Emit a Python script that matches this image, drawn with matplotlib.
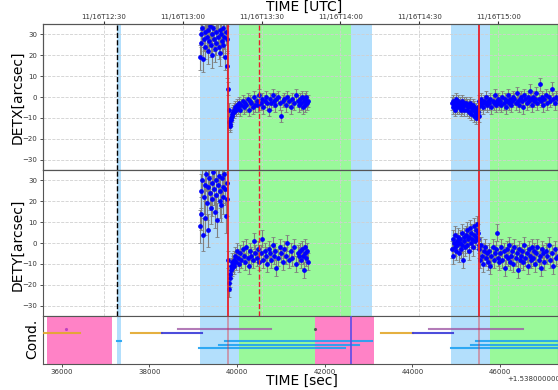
import numpy as np
import matplotlib
matplotlib.use("Agg")
import matplotlib.pyplot as plt

# ---- data (seconds relative to 1.538e9) ----
t_offset = 1.538e9

# pointing segment A (slew / unsettled)
tA = [39150, 39168, 39186, 39204, 39222, 39240, 39258, 39276, 39294, 39312,
      39330, 39348, 39366, 39384, 39402, 39420, 39438, 39456, 39474, 39492,
      39510, 39528, 39546, 39564, 39582, 39600, 39618, 39636, 39654, 39672,
      39690, 39708, 39726, 39744, 39762, 39780]
detxA = [19, 30, 26, 33, 18, 28, 31, 24, 36, 29,
         22, 32, 27, 34, 25, 30, 20, 33, 28, 23,
         31, 26, 38, 29, 24, 32, 21, 30, 27, 33,
         25, 29, 19, 31, 28, 15]
detyA = [8, 25, 14, 30, 4, 22, 28, 12, 33, 19,
         27, 6, 31, 24, 17, 29, 21, 34, 26, 15,
         30, 23, 11, 28, 32, 20, 25, 18, 31, 27,
         22, 33, 26, 13, 29, 21]

# segment B
tB = [39800, 39810, 39820, 39830, 39840, 39852, 39864, 39876, 39890, 39905,
      39920, 39940, 39960, 39980, 40000, 40025, 40050, 40075, 40100, 40125,
      40150, 40180, 40210, 40240, 40270, 40300, 40330, 40360, 40390, 40420,
      40450, 40480, 40510, 40540, 40570, 40600, 40630, 40660, 40690, 40720,
      40750, 40780, 40810, 40840, 40870, 40900, 40935, 40970, 41005, 41040,
      41075, 41110, 41145, 41180, 41220, 41260, 41300, 41340, 41380, 41420,
      41440, 41460, 41480, 41500, 41520, 41540, 41560, 41580, 41600, 41620]
detxB = [4, -6, -12, -14, -13, -11, -10, -8, -9, -7,
         -6, -7, -5, -6, -4, -5, -3, -6, -4, -2,
         -5, -3, -4, -1, -6, -2, -3, -5, 0, -4,
         -2, -4, 1, -3, -1, -5, -2, 0, -3, -6,
         -1, -3, 1, -2, -4, -1, 0, -3, -9, -2,
         -1, -4, 0, -2, -5, -1, -3, 1, -2, -4,
         -1, -3, 0, -5, -2, -1, -4, 0, -3, -2]
detyB = [-8, -22, -19, -17, -15, -13, -11, -12, -9, -10,
         -8, -11, -6, -9, -4, -7, -10, -5, -8, -3,
         -6, -9, -2, -7, -11, -4, -6, -8, 1, -5,
         -7, -3, -9, -5, 2, -8, -4, -6, -10, -3,
         -5, -8, -1, -6, -4, -12, -7, -2, -5, -9,
         -3, -6, 0, -8, -4, -7, -2, -10, -5, -6,
         -4, -8, -3, -6, -13, -5, -2, -7, -4, -9]

# segment C
tC = [44900, 44916, 44932, 44948, 44964, 44980, 44996, 45012, 45028, 45044,
      45060, 45076, 45092, 45108, 45124, 45140, 45156, 45172, 45188, 45204,
      45220, 45236, 45252, 45268, 45284, 45300, 45316, 45332, 45348, 45364,
      45380, 45396, 45412, 45428, 45444, 45460, 45476, 45492, 45505, 45518]
detxC = [-3, -5, -2, -4, -6, -3, -1, -5, -4, -2,
         -5, -3, -4, -6, -2, -5, -4, -3, -6, -4,
         -3, -6, -4, -5, -7, -4, -3, -8, -5, -6,
         -4, -9, -5, -7, -10, -6, -8, -5, -7, -9]
detyC = [-3, 2, -6, 0, -2, 4, -4, 1, -1, 3,
         -5, 0, 2, -3, 5, -1, -8, 3, 1, -2,
         4, -1, 6, 2, -4, 3, 7, 0, 5, 2,
         -2, 8, 4, 1, 6, 3, 9, 2, 5, -1]

# segment D
tD = [45525, 45545, 45565, 45585, 45605, 45630, 45655, 45680, 45705, 45730,
      45755, 45780, 45805, 45830, 45855, 45880, 45905, 45930, 45955, 45980,
      46005, 46030, 46055, 46080, 46105, 46130, 46155, 46180, 46205, 46230,
      46255, 46280, 46305, 46330, 46355, 46380, 46405, 46430, 46455, 46480,
      46505, 46530, 46555, 46580, 46605, 46630, 46655, 46680, 46705, 46730,
      46755, 46780, 46805, 46830, 46855, 46880, 46905, 46930, 46955, 46980,
      47005, 47040, 47075, 47110, 47145, 47180, 47215, 47250, 47285, 47320]
detxD = [-2, -4, -1, -3, -5, -2, -3, 0, -4, -2,
         -3, -1, -5, -2, -3, 1, -4, -2, -1, -3,
         -2, -4, 0, -3, -1, -5, -2, 1, -3, -1,
         -4, -2, 0, -1, -3, 2, -2, -4, -1, 0,
         -2, -5, 1, -1, -3, 0, -2, 3, -1, -4,
         0, -2, -1, 2, -3, -1, 6, -2, 0, -4,
         -1, 1, -3, 0, -2, 4, -1, -3, 0, -1]
detyD = [-3, -8, -1, -6, -10, -4, -2, -7, -5, -9,
         -4, -11, -6, -2, -8, -5, -3, 5, -7, -9,
         -5, -2, -8, -4, -12, -6, -3, -7, -1, -9,
         -6, -4, -10, -2, -7, -5, -13, -3, -8, -6,
         -4, -9, -1, -7, -5, -11, -3, -6, -8, -2,
         -7, -4, -10, -5, -2, -8, -6, -12, -3, -5,
         -9, -4, -6, -1, -8, -5, -11, -3, -7, -6]

segments = [(tA, detxA, detyA, 6, 8), (tB, detxB, detyB, 3, 4),
            (tC, detxC, detyC, 3, 4), (tD, detxD, detyD, 3, 4)]

# shaded intervals
top_blue = [(37268, 37352), (39155, 40045), (42600, 43080), (44882, 45771)]
top_green = [(40045, 42600), (45771, 47500)]
cond_pink = [(35671, 37154), (41786, 43117)]
cond_blue = [(37268, 37352), (39155, 40045), (44882, 45771)]
cond_green = [(40045, 41786), (45771, 47500)]

# event lines
black_dash = 37258
red_solid = [39794, 45520]
red_dash = 40500
blue_cond = 42593

# condition bars: (start, end, level, colour key)
cond_bars = [(35400, 36420, 8.3, 'orange'), (37574, 38295, 8.3, 'orange'),
             (38295, 39208, 8.3, 'blue'), (43284, 44021, 8.3, 'orange'),
             (44021, 44934, 8.3, 'blue'),
             (38646, 40775, 9.5, 'purple'), (44380, 46517, 9.5, 'purple'),
             (37270, 37350, 6.2, 'sky'),
             (39725, 43072, 6.2, 'sky'), (39596, 42783, 5.2, 'sky'),
             (39132, 42463, 4.3, 'sky'),
             (45452, 47500, 6.2, 'sky'), (45331, 47500, 5.2, 'sky'),
             (44875, 47500, 4.3, 'sky')]
cond_dots = [(36098, 9.5, '#c040c0'), (41779, 9.5, '#555555')]

utc_ticks = [36960, 38760, 40560, 42360, 44160, 45960]
utc_labels = ['11/16T12:30', '11/16T13:00', '11/16T13:30',
              '11/16T14:00', '11/16T14:30', '11/16T15:00']
sec_ticks = [36000, 38000, 40000, 42000, 44000, 46000]

xlim = (35573, 47323)

# ---- style ----
c_blue = '#b3dffc'
c_green = '#99f99a'
c_pink = '#ff82c6'
bar_colors = {'orange': '#e3a82b', 'blue': '#3a3ad8',
              'purple': '#a05aa6', 'sky': '#1fa2f2'}
spine_c = '#555555'
tick_fs = 5
label_fs = 10

fig = plt.figure(figsize=(5.58, 3.90), dpi=100)
W, H = 558.0, 390.0
left = 43 / W
width = 1.0 - left
ax1 = fig.add_axes([left, 1 - 170 / H, width, 146 / H])
ax2 = fig.add_axes([left, 1 - 316 / H, width, 146 / H])
ax3 = fig.add_axes([left, 1 - 364 / H, width, 48 / H])


def shade(ax, spans, color):
    for a, b in spans:
        ax.axvspan(a, b, color=color, lw=0, zorder=0)


for ax, idx in ((ax1, 1), (ax2, 2)):
    shade(ax, top_blue, c_blue)
    shade(ax, top_green, c_green)
    for t, dx, dy, ex, ey in segments:
        v = dx if idx == 1 else dy
        e = ex if idx == 1 else ey
        ax.errorbar(t, v, yerr=e, fmt='o', ms=2.4, mfc='blue', mec='blue',
                    ecolor='grey', elinewidth=0.8, capsize=1.5, capthick=0.6,
                    zorder=3)
    ax.axvline(black_dash, color='black', ls='--', lw=1.0, zorder=4)
    for x in red_solid:
        ax.axvline(x, color='#e8202a', lw=1.3, zorder=4)
    ax.axvline(red_dash, color='#e8202a', ls='--', lw=1.0, zorder=4)
    ax.set_ylim(-35, 35)
    ax.set_yticks([-30, -20, -10, 0, 10, 20, 30])
    ax.set_xlim(*xlim)
    ax.set_xticks(utc_ticks)
    ax.tick_params(axis='x', length=0, labelbottom=False)
    ax.tick_params(axis='y', labelsize=tick_fs, length=2, width=0.6, pad=2,
                   colors='#333333')
    ax.grid(True, ls='--', color='#d0d0d0', lw=0.6, zorder=1)
    for s in ax.spines.values():
        s.set_color(spine_c)

fig.text(17 / W, 1 - 97 / H, 'DETX[arcsec]', rotation=90, fontsize=label_fs,
         ha='center', va='center')
fig.text(17 / W, 1 - 245 / H, 'DETY[arcsec]', rotation=90, fontsize=label_fs,
         ha='center', va='center')

# top UTC axis
axt = ax1.twiny()
axt.set_xlim(*xlim)
axt.set_xticks(utc_ticks)
axt.set_xticklabels(utc_labels)
axt.tick_params(axis='x', labelsize=tick_fs, length=2, pad=1,
                colors='#333333')
for s in axt.spines.values():
    s.set_color(spine_c)
fig.text(304 / W, 1 - 7 / H, 'TIME [UTC]', ha='center', va='center',
         fontsize=label_fs)

# condition panel
shade(ax3, cond_pink, c_pink)
shade(ax3, cond_blue, c_blue)
shade(ax3, cond_green, c_green)
for a, b, lev, key in cond_bars:
    ax3.plot([a, b], [lev, lev], color=bar_colors[key], lw=1.5,
             alpha=0.9 if key != 'purple' else 0.8, zorder=3)
for x, lev, c in cond_dots:
    ax3.plot([x], [lev], marker='.', ms=2.5, color=c, zorder=3)
for x in red_solid:
    ax3.axvline(x, color='#e8202a', lw=1.3, alpha=0.4, zorder=4)
ax3.axvline(blue_cond, color='#5a4de8', lw=1.2, zorder=4)
ax3.set_ylim(0, 13)
ax3.set_yticks([])
ax3.set_xlim(*xlim)
ax3.set_xticks(sec_ticks)
ax3.ticklabel_format(axis='x', useOffset=False, style='plain')
ax3.tick_params(axis='x', labelsize=tick_fs, length=2, width=0.6, pad=1.5,
                colors='#333333')
for s in ax3.spines.values():
    s.set_color(spine_c)
fig.text(32 / W, 1 - 339 / H, 'Cond.', rotation=90, fontsize=label_fs,
         ha='center', va='center')
fig.text(302 / W, 1 - 381 / H, 'TIME [sec]', ha='center', va='center',
         fontsize=label_fs)
fig.text(507 / W, 1 - 379 / H, '+%.9e' % t_offset, fontsize=tick_fs,
         ha='left', va='center', color='#333333')

fig.savefig('out.png', dpi=100)
